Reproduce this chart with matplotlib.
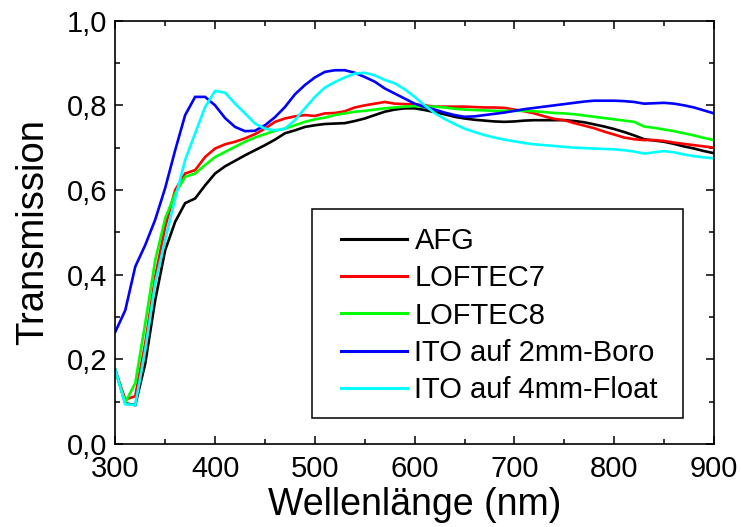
import numpy as np
import matplotlib
matplotlib.use("Agg")
import matplotlib.pyplot as plt
from matplotlib.ticker import MultipleLocator, FuncFormatter
from matplotlib.patches import Rectangle

wavelength = list(range(300, 901, 10))

afg = [0.175, 0.096, 0.092, 0.19, 0.34, 0.458, 0.525, 0.569, 0.58, 0.611,
       0.639, 0.656, 0.669, 0.682, 0.694, 0.706, 0.719, 0.734, 0.741, 0.749,
       0.753, 0.756, 0.757, 0.758, 0.763, 0.769, 0.777, 0.785, 0.79, 0.793,
       0.793, 0.789, 0.784, 0.779, 0.773, 0.769, 0.766, 0.764, 0.762, 0.761,
       0.762, 0.764, 0.765, 0.765, 0.765, 0.765, 0.763, 0.76, 0.755, 0.75,
       0.744, 0.737, 0.729, 0.72, 0.717, 0.714, 0.709, 0.703, 0.698, 0.692,
       0.687]

loftec7 = [0.175, 0.105, 0.113, 0.238, 0.395, 0.513, 0.60, 0.639, 0.647, 0.678,
           0.698, 0.708, 0.714, 0.722, 0.732, 0.745, 0.761, 0.769, 0.774, 0.777,
           0.775, 0.781, 0.782, 0.786, 0.795, 0.80, 0.804, 0.808, 0.804, 0.803,
           0.802, 0.80, 0.797, 0.797, 0.797, 0.797, 0.796, 0.795, 0.795, 0.794,
           0.79, 0.786, 0.781, 0.774, 0.768, 0.765, 0.758, 0.752, 0.746, 0.738,
           0.731, 0.724, 0.72, 0.718, 0.718, 0.716, 0.712, 0.709, 0.706, 0.703,
           0.70]

loftec8 = [0.175, 0.098, 0.144, 0.285, 0.434, 0.533, 0.592, 0.631, 0.639, 0.659,
           0.678, 0.69, 0.702, 0.714, 0.724, 0.732, 0.74, 0.745, 0.753, 0.761,
           0.767, 0.771, 0.777, 0.781, 0.785, 0.787, 0.79, 0.793, 0.795, 0.797,
           0.798, 0.797, 0.797, 0.795, 0.792, 0.79, 0.789, 0.788, 0.787, 0.787,
           0.787, 0.787, 0.786, 0.784, 0.782, 0.781, 0.779, 0.776, 0.773, 0.77,
           0.767, 0.764, 0.761, 0.75, 0.747, 0.743, 0.739, 0.734, 0.729, 0.723,
           0.718]

ito_boro = [0.265, 0.316, 0.419, 0.47, 0.53, 0.605, 0.694, 0.777, 0.82, 0.82,
            0.80, 0.77, 0.749, 0.739, 0.74, 0.753, 0.772, 0.796, 0.826, 0.848,
            0.866, 0.879, 0.883, 0.883, 0.877, 0.867, 0.856, 0.84, 0.828, 0.816,
            0.804, 0.796, 0.79, 0.783, 0.777, 0.773, 0.774, 0.777, 0.780, 0.783,
            0.787, 0.791, 0.794, 0.797, 0.80, 0.803, 0.806, 0.809, 0.811, 0.811,
            0.811, 0.81, 0.808, 0.804, 0.805, 0.806, 0.804, 0.80, 0.795, 0.788,
            0.781]

ito_float = [0.175, 0.094, 0.092, 0.222, 0.38, 0.482, 0.58, 0.671, 0.734, 0.796,
             0.834, 0.83, 0.804, 0.781, 0.757, 0.745, 0.741, 0.745, 0.765, 0.793,
             0.82, 0.842, 0.855, 0.866, 0.875, 0.877, 0.871, 0.86, 0.852, 0.838,
             0.82, 0.80, 0.782, 0.768, 0.756, 0.745, 0.737, 0.73, 0.724, 0.719,
             0.715, 0.711, 0.708, 0.706, 0.704, 0.702, 0.70, 0.699, 0.698, 0.697,
             0.696, 0.694, 0.691, 0.686, 0.689, 0.692, 0.689, 0.684, 0.68, 0.677,
             0.675]

labels = ["AFG", "LOFTEC7", "LOFTEC8", "ITO auf 2mm-Boro", "ITO auf 4mm-Float"]
colors = ["#000000", "#ff0000", "#00ff00", "#0000ff", "#00ffff"]
series = [afg, loftec7, loftec8, ito_boro, ito_float]

plt.rcParams['font.family'] = ['Liberation Sans', 'DejaVu Sans']

fig = plt.figure(figsize=(7.41, 5.27), dpi=100)
L, R, T, B = 115.3, 714.0, 20.7, 444.0
W, H = 741.0, 527.0
ax = fig.add_axes([L / W, 1 - B / H, (R - L) / W, (B - T) / H])

for ys, c, lab in zip(series, colors, labels):
    ax.plot(wavelength, ys, color=c, lw=1.9, label=lab, solid_joinstyle='miter')

ax.set_xlim(300, 900)
ax.set_ylim(0.0, 1.0)
ax.xaxis.set_major_locator(MultipleLocator(100))
ax.xaxis.set_minor_locator(MultipleLocator(50))
ax.yaxis.set_major_locator(MultipleLocator(0.2))
ax.yaxis.set_minor_locator(MultipleLocator(0.1))
ax.yaxis.set_major_formatter(FuncFormatter(lambda v, p: f"{v:.1f}".replace('.', ',')))
ax.tick_params(which='both', direction='in', top=True, right=True, width=1.1,
               labelsize=21, colors='black')
ax.tick_params(which='major', length=6)
ax.tick_params(which='minor', length=3.5)
ax.tick_params(axis='x', which='major', pad=8)
ax.tick_params(axis='y', which='major', pad=6)
for s in ax.spines.values():
    s.set_linewidth(1.2)

ax.set_xlabel("Wellenlänge (nm)", fontsize=27, labelpad=2.5)
ax.set_ylabel("Transmission", fontsize=27.5, labelpad=11)

# legend frame
x0 = (311.7 - L) / (R - L)
x1 = (683.0 - L) / (R - L)
y0 = (B - 417.7) / (B - T)
y1 = (B - 209.0) / (B - T)
ax.add_patch(Rectangle((x0, y0), x1 - x0, y1 - y0, transform=ax.transAxes,
                       fill=True, facecolor='white', edgecolor='black', lw=1.1, zorder=5))

leg = ax.legend(loc='center left', bbox_to_anchor=((340.7 - L) / (R - L), (B - 315.5) / (B - T)),
                frameon=False, fontsize=21, handlelength=2.26, handletextpad=0.27,
                labelspacing=0.32, borderpad=0, borderaxespad=0)
leg.set_zorder(6)
for line in leg.get_lines():
    line.set_linewidth(2.2)

fig.savefig("out.png", dpi=100)
